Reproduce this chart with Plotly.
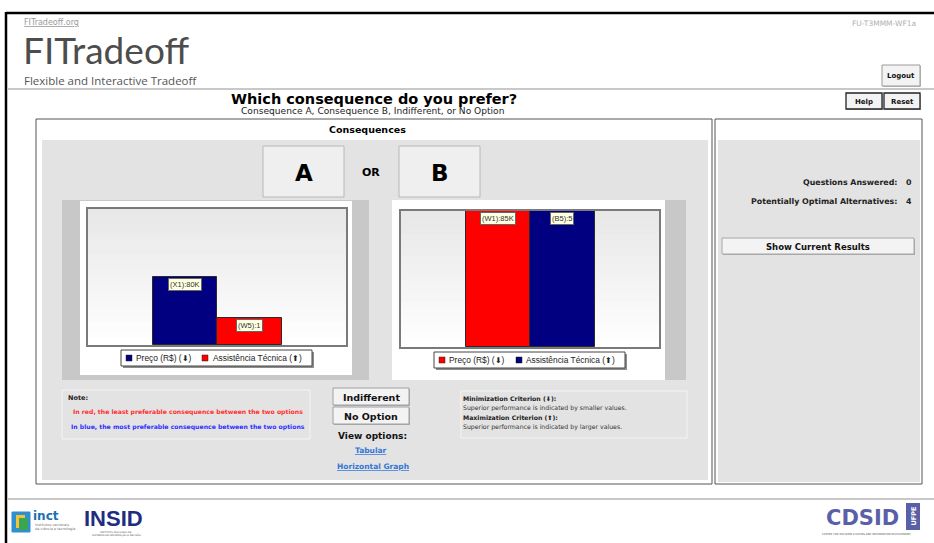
import plotly.graph_objects as go

# ---------------- data ----------------
criteria = ["Preço (R$)", "Assistência Técnica"]
criteria_arrows = ["⬇", "⬆"]
a_values = [0.5, 0.2]
b_values = [1.0, 1.0]
a_labels = ["(X1):80K", "(W5):1"]
b_labels = ["(W1):85K", "(B5):5"]
a_colors = ["#000080", "#ff0000"]
b_colors = ["#ff0000", "#000080"]
questions_answered = 0
potentially_optimal = 4

# ---------------- helpers ----------------
W, H = 934, 543
FONT = "DejaVu Sans"
SMALL = "Liberation Sans"


def X(p):
    return p / W


def Y(p):
    return 1 - p / H


shapes = []
annotations = []


def rect(x0, y0, x1, y1, fill=None, line=None, lw=1, layer="below"):
    shapes.append(dict(type="rect", xref="paper", yref="paper",
                       x0=X(x0), x1=X(x1), y0=Y(y1), y1=Y(y0),
                       fillcolor=fill or "rgba(0,0,0,0)",
                       line=dict(color=line or "rgba(0,0,0,0)", width=lw if line else 0),
                       layer=layer))


def hline(x0, x1, y, color, lw=1):
    shapes.append(dict(type="line", xref="paper", yref="paper",
                       x0=X(x0), x1=X(x1), y0=Y(y), y1=Y(y),
                       line=dict(color=color, width=lw), layer="below"))


def vline(x, y0, y1, color, lw=1):
    shapes.append(dict(type="line", xref="paper", yref="paper",
                       x0=X(x), x1=X(x), y0=Y(y0), y1=Y(y1),
                       line=dict(color=color, width=lw), layer="below"))


def text(x, y, s, size, color="#000", bold=False, anchor="left", family=FONT):
    annotations.append(dict(xref="paper", yref="paper", x=X(x), y=Y(y),
                            text=f"<b>{s}</b>" if bold else s, showarrow=False,
                            xanchor=anchor, yanchor="middle",
                            font=dict(size=size, color=color, family=family)))


def button(x0, y0, x1, y1, label, size, border="#9a9a9a", lw=1, fill="#f3f3f3"):
    rect(x0 + 1, y0 + 1, x1 + 1, y1 + 1, fill="rgba(0,0,0,0.25)")
    rect(x0, y0, x1, y1, fill=fill, line=border, lw=lw)
    text((x0 + x1) / 2, (y0 + y1) / 2 + 0.5, label, size, "#111", bold=True, anchor="center")


# ---------------- page frame ----------------
hline(6, W, 13, "#000", 2.5)
vline(6, 12, H, "#000", 2.5)
hline(7, W, 89, "#c8c8c8", 2)
hline(7, W, 499, "#c8c8c8", 2)

# header
text(22, 22, "<u>FITradeoff.org</u>", 8, "#9a9a9a")
text(21, 49.5, "FITradeoff", 37, "#4d4d4d", family="Lato")
text(22, 80.5, "Flexible and Interactive Tradeoff", 11.5, "#555", family="Open Sans")
text(918, 23, "FU-T3MMM-WF1a", 7.5, "#b0b0b0", anchor="right")
button(882, 65, 920, 86, "Logout", 7)
button(846, 93, 882, 109, "Help", 7, border="#222", lw=1.3)
button(884, 93, 920, 109, "Reset", 7, border="#222", lw=1.3)

text(374, 99, "Which consequence do you prefer?", 14.5, "#000", bold=True, anchor="center")
text(372, 111.5, "Consequence A, Consequence B, Indifferent, or No Option", 9.1, "#222", anchor="center")

# panels
rect(36, 119, 712, 484, fill="#ffffff", line="#555", lw=1)
rect(715, 119, 922, 484, fill="#ffffff", line="#555", lw=1)
rect(42, 140, 708, 480, fill="#e3e3e3")
rect(718, 140, 920, 482, fill="#e3e3e3")
text(367, 129.5, "Consequences", 9.5, "#000", bold=True, anchor="center")

# A / OR / B
rect(263, 146, 344, 197, fill="#efefef", line="#b8b8b8")
rect(399, 146, 480, 197, fill="#efefef", line="#b8b8b8")
text(303.5, 173, "A", 23, "#000", bold=True, anchor="center")
text(440, 173, "B", 23, "#000", bold=True, anchor="center")
text(371, 172, "OR", 11, "#000", bold=True, anchor="center")

# chart frames
rect(62, 200, 369, 380, fill="#c8c8c8")
rect(80, 201, 352, 375, fill="#ffffff")
rect(665, 200, 686, 380, fill="#c8c8c8")
rect(392, 200, 665, 380, fill="#ffffff")

# plot area gradients
PA = [(88, 209, 346, 345), (401, 211, 659, 347)]
N = 18
for (x0, y0, x1, y1) in PA:
    h = (y1 - y0) / N
    for k in range(N):
        g = int(232 + (255 - 232) * k / (N - 1))
        rect(x0, y0 + k * h, x1, y0 + (k + 1) * h + 0.6, fill=f"rgb({g},{g},{g})")

# manual legends
def legend(box, items):
    x0, y0, x1, y1 = box
    rect(x0 + 2, y0 + 2, x1 + 2, y1 + 2, fill="rgba(0,0,0,0.45)")
    rect(x0, y0, x1, y1, fill="#ffffff", line="#444", lw=1)
    ym = (y0 + y1) / 2
    for (sx, tx, color, label) in items:
        rect(sx, ym - 3, sx + 6, ym + 3, fill=color, line="#222", lw=0.5)
        text(tx, ym, label, 8.4, "#222", family=SMALL)


legend((121, 350, 312, 366), [
    (126, 134, a_colors[0], f"{criteria[0]} ({criteria_arrows[0]})"),
    (202, 211, a_colors[1], f"{criteria[1]} ({criteria_arrows[1]})"),
])
legend((434, 352, 625, 368), [
    (439, 447, b_colors[0], f"{criteria[0]} ({criteria_arrows[0]})"),
    (516, 524, b_colors[1], f"{criteria[1]} ({criteria_arrows[1]})"),
])

# note box
rect(62, 390, 310, 439, line="#f4f4f4", lw=1)
text(66, 398, "Note:", 6.5, "#222", bold=True)
text(188, 412, "In red, the least preferable consequence between the two options", 6.15, "#ff3030", bold=True, anchor="center")
text(188, 427, "In blue, the most preferable consequence between the two options", 6.15, "#3030ff", bold=True, anchor="center")

# middle buttons & links
button(333, 388, 409, 405, "Indifferent", 9.5, border="#a0a0a0")
button(333, 407, 409, 424, "No Option", 9.5, border="#a0a0a0")
text(372, 436, "View options:", 9, "#111", bold=True, anchor="center")
text(371, 450, "<u>Tabular</u>", 7.5, "#3576d6", bold=True, anchor="center")
text(373, 466, "<u>Horizontal Graph</u>", 7.5, "#3576d6", bold=True, anchor="center")

# criteria info box
rect(461, 391, 687, 438, line="#f4f4f4", lw=1)
text(461, 398, "Minimization Criterion (⬇):", 6.2, "#222", bold=True)
text(461, 407.5, "Superior performance is indicated by smaller values.", 6.2, "#333")
text(461, 417, "Maximization Criterion (⬆):", 6.2, "#222", bold=True)
text(461, 427, "Superior performance is indicated by larger values.", 6.2, "#333")

# right panel
text(899, 182, "Questions Answered:", 7.9, "#222", bold=True, anchor="right")
text(914, 182, str(questions_answered), 7.9, "#222", bold=True, anchor="right")
text(899, 202, "Potentially Optimal Alternatives:", 7.9, "#222", bold=True, anchor="right")
text(914, 202, str(potentially_optimal), 7.9, "#222", bold=True, anchor="right")
button(722, 238, 914, 254, "Show Current Results", 8.5, border="#a8a8a8")

# footer logos (approximate)
rect(12, 512, 30, 532, fill="#2f8fd0", line="#2f8fd0")
rect(16, 515, 25, 528, fill="#f2c23a")
rect(19, 518, 28, 530, fill="#3aa655")
text(31, 516, "<b>inct</b>", 12, "#1b6fb5")
text(33, 525, "institutos nacionais", 3.5, "#777")
text(33, 529, "de ciência e tecnologia", 3.5, "#777")
text(82, 518, "<b>INSID</b>", 22, "#1f2d80", family=SMALL)
text(116, 532, "INSTITUTO NACIONAL DE", 2.5, "#555", anchor="center")
text(116, 535, "SISTEMAS DE INFORMAÇÃO E DECISÃO", 2.5, "#555", anchor="center")
text(824, 518, "CDSID", 21, "#5a5fa8", bold=True)
rect(906, 503, 920, 530, fill="#5a5fa8")
annotations.append(dict(xref="paper", yref="paper", x=X(913), y=Y(516.5), text="<b>UFPE</b>",
                        showarrow=False, textangle=-90, xanchor="center", yanchor="middle",
                        font=dict(size=6.5, color="#ffffff", family=FONT)))
text(866, 534, "CENTER FOR DECISION SYSTEMS AND INFORMATION DEVELOPMENT", 2.6, "#555", anchor="center")

# ---------------- bar charts ----------------
fig = go.Figure()
for i in range(len(criteria)):
    fig.add_trace(go.Bar(x=[criteria[i]], y=[a_values[i]], width=1,
                         marker=dict(color=a_colors[i], line=dict(color="#2a2a2a", width=1)),
                         xaxis="x", yaxis="y", showlegend=False, hoverinfo="skip"))
    fig.add_trace(go.Bar(x=[criteria[i]], y=[b_values[i]], width=1,
                         marker=dict(color=b_colors[i], line=dict(color="#2a2a2a", width=1)),
                         xaxis="x2", yaxis="y2", showlegend=False, hoverinfo="skip"))
    for (xa, ya, vals, labs) in [("x", "y", a_values, a_labels), ("x2", "y2", b_values, b_labels)]:
        annotations.append(dict(xref=xa, yref=ya, x=criteria[i], y=vals[i], text=labs[i],
                                showarrow=False, xanchor="center", yanchor="top", yshift=-1,
                                bgcolor="#ffffe1", bordercolor="#666", borderwidth=1, borderpad=1,
                                font=dict(size=7.5, color="#333", family=SMALL)))

axis_common = dict(type="category", categoryorder="array", categoryarray=criteria,
                   range=[-1.5, 2.5], showticklabels=False, showgrid=False, zeroline=False,
                   showline=True, mirror=True, linecolor="#7a7a7a", linewidth=1.5,
                   ticks="", fixedrange=True)
yaxis_common = dict(range=[0, 1], showticklabels=False, showgrid=False, zeroline=False,
                    showline=True, mirror=True, linecolor="#7a7a7a", linewidth=1.5,
                    ticks="", fixedrange=True)

(ax0, ay0, ax1, ay1), (bx0, by0, bx1, by1) = PA
fig.update_layout(
    width=W, height=H, margin=dict(l=0, r=0, t=0, b=0),
    paper_bgcolor="#ffffff", plot_bgcolor="rgba(0,0,0,0)",
    barmode="overlay", bargap=0,
    font=dict(family=FONT, size=9, color="#000"),
    xaxis=dict(domain=[X(ax0), X(ax1)], anchor="y", **axis_common),
    yaxis=dict(domain=[Y(ay1), Y(ay0)], anchor="x", **yaxis_common),
    xaxis2=dict(domain=[X(bx0), X(bx1)], anchor="y2", **axis_common),
    yaxis2=dict(domain=[Y(by1), Y(by0)], anchor="x2", **yaxis_common),
    shapes=shapes, annotations=annotations, showlegend=False,
)

fig.write_html("out.html", config={"displayModeBar": False, "responsive": False},
               post_script="document.body.style.margin='0';document.body.style.overflow='hidden';")
